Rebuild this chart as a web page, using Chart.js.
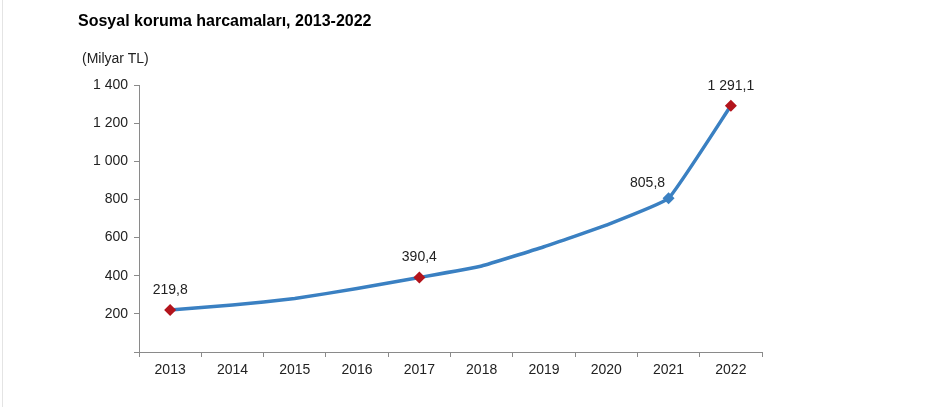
<!DOCTYPE html>
<html>
<head>
<meta charset="utf-8">
<script src="https://cdn.jsdelivr.net/npm/chart.js@4/dist/chart.umd.min.js"></script>
<style>
  html, body { margin: 0; padding: 0; background: #fff; }
  #wrap { position: relative; width: 935px; height: 407px; overflow: hidden; }
  #edge { position: absolute; left: 2px; top: 0; width: 1px; height: 407px; background: #e4e4e4; }
  #title { position: absolute; left: 78px; top: 12px; font: bold 16px "Liberation Sans", Arial, sans-serif; color: #000; white-space: nowrap; }
  #unit { position: absolute; left: 82px; top: 50px; font: 14px "Liberation Sans", Arial, sans-serif; color: #222; white-space: nowrap; }
  canvas { position: absolute; left: 0; top: 0; }
</style>
</head>
<body>
<div id="wrap">
  <div id="edge"></div>
  <canvas id="c" width="935" height="407"></canvas>
  <div id="title">Sosyal koruma harcamaları, 2013-2022</div>
  <div id="unit">(Milyar TL)</div>
</div>
<script>
const years = ['2013','2014','2015','2016','2017','2018','2019','2020','2021','2022'];
const spending = [219.8, 246, 280, 333, 390.4, 451, 552, 665, 805.8, 1291.1];
const labelledIdx = [0, 4, 8, 9];
const markerColors = ['#b3141c', null, null, null, '#b3141c', null, null, null, '#3a80c2', '#b3141c'];
const yTicks = [0, 200, 400, 600, 800, 1000, 1200, 1400];

function fmt(v, dec) {
  const parts = v.toFixed(dec).split('.');
  const intPart = parts[0].replace(/\B(?=(\d{3})+(?!\d))/g, ' ');
  return parts.length > 1 ? intPart + ',' + parts[1] : intPart;
}

const labelPlugin = {
  id: 'pointLabels',
  afterDatasetsDraw(chart) {
    const ctx = chart.ctx;
    const meta = chart.getDatasetMeta(0);
    ctx.save();
    ctx.font = '14px "Liberation Sans", Arial, sans-serif';
    ctx.fillStyle = '#222';
    ctx.textAlign = 'center';
    ctx.textBaseline = 'middle';
    labelledIdx.forEach(i => {
      const p = meta.data[i];
      let dx = 0, dy = -20;
      if (i === 8) { dx = -21; dy = -15; }
      ctx.fillText(fmt(spending[i], 1), p.x + dx, p.y + dy);
    });
    ctx.restore();
  }
};

new Chart(document.getElementById('c'), {
  type: 'line',
  data: {
    labels: years,
    datasets: [{
      data: spending,
      borderColor: '#3a80c2',
      borderWidth: 3.5,
      tension: 0.1,
      pointStyle: 'rectRot',
      pointRadius: markerColors.map(c => c ? 6 : 0),
      pointBackgroundColor: markerColors.map(c => c || '#3a80c2'),
      pointBorderColor: markerColors.map(c => c || '#3a80c2'),
      pointBorderWidth: 0,
      fill: false
    }]
  },
  options: {
    responsive: false,
    animation: false,
    events: [],
    layout: { padding: { top: 85, right: 173, bottom: 0, left: 0 } },
    plugins: { legend: { display: false }, tooltip: { enabled: false } },
    scales: {
      x: {
        offset: true,
        grid: { display: true, offset: true, drawOnChartArea: false, tickLength: 5, color: '#8a8a8a' },
        border: { color: '#8a8a8a', width: 1 },
        ticks: { color: '#222', font: { family: '"Liberation Sans", Arial, sans-serif', size: 14 }, padding: 5, maxRotation: 0 },
        afterFit(scale) { scale.height = 55; }
      },
      y: {
        min: 0, max: 1400,
        afterBuildTicks(scale) { scale.ticks = yTicks.map(v => ({ value: v })); },
        grid: { display: true, drawOnChartArea: false, tickLength: 5, color: '#8a8a8a' },
        border: { color: '#8a8a8a', width: 1 },
        ticks: {
          color: '#222',
          font: { family: '"Liberation Sans", Arial, sans-serif', size: 14 },
          padding: 6,
          callback: v => v === 0 ? '' : fmt(v, 0)
        },
        afterFit(scale) { scale.width = 139; }
      }
    }
  },
  plugins: [labelPlugin]
});
</script>
</body>
</html>
